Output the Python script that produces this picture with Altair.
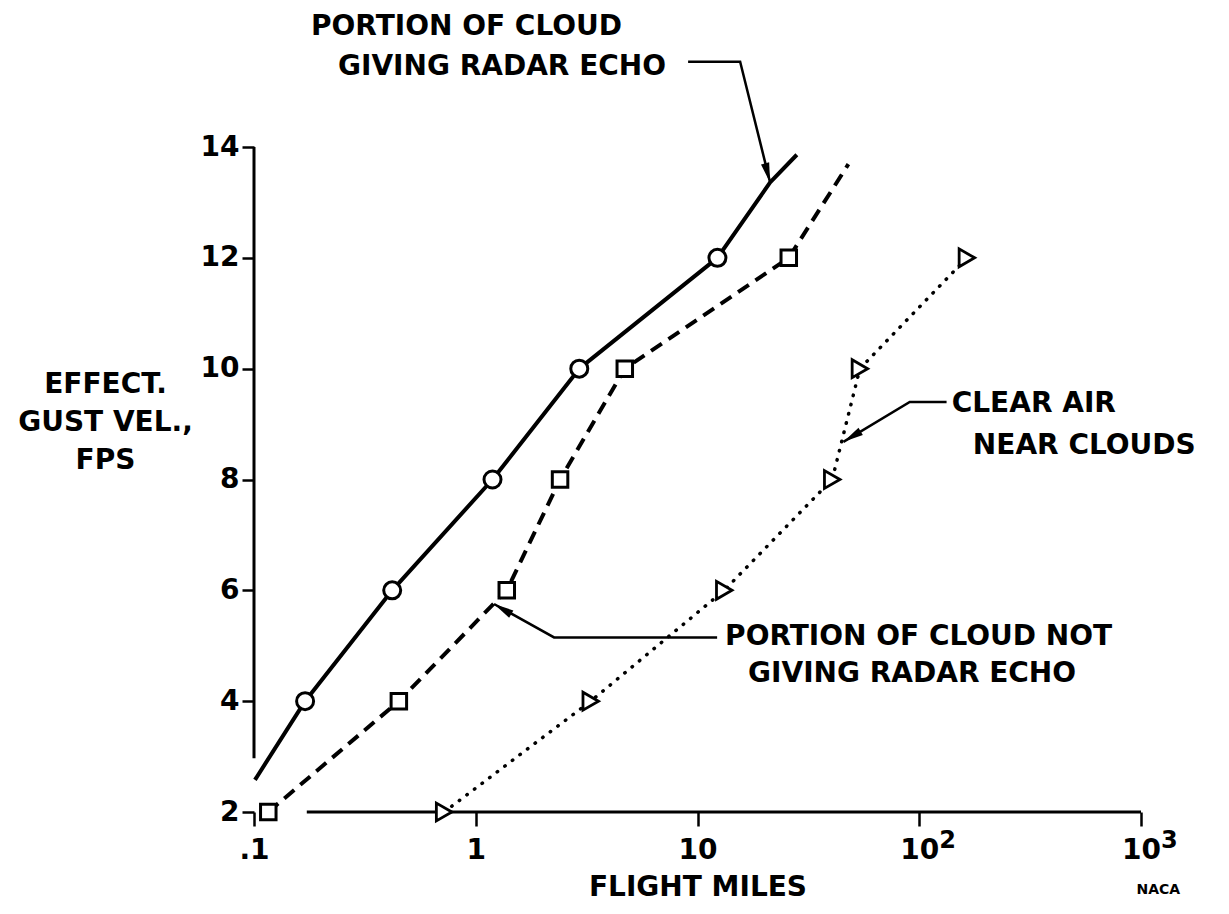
import altair as alt
import pandas as pd

# ---------------- data ----------------
# solid curve: portion of cloud giving radar echo (circles)
echo_line_x = [0.101, 0.17, 0.42, 1.19, 2.93, 12.3, 21.26, 28.05]
echo_line_y = [2.58, 4, 6, 8, 10, 12, 13.36, 13.86]
echo_pts_x = [0.17, 0.42, 1.19, 2.93, 12.3]
echo_pts_y = [4, 6, 8, 10, 12]

# dashed curve: portion of cloud not giving radar echo (squares)
noecho_line_x = [0.116, 0.45, 1.38, 2.40, 4.70, 25.8, 47.9]
noecho_line_y = [2, 4, 6, 8, 10, 12, 13.69]
noecho_pts_x = [0.116, 0.45, 1.38, 2.40, 4.70, 25.8]
noecho_pts_y = [2, 4, 6, 8, 10, 12]

# dotted curve: clear air near clouds (triangles)
clear_x = [0.72, 3.3, 13.2, 40.5, 54.0, 164.0]
clear_y = [2, 4, 6, 8, 10, 12]

# axes
y_ticks = [2, 4, 6, 8, 10, 12, 14]
x_ticks = [0.1, 1, 10, 100, 1000]
x_tick_labels = [".1", "1", "10", "10", "10"]
x_tick_exps = ["", "", "", "2", "3"]
y_title = ["EFFECT.", "GUST VEL.,", "FPS"]
x_title = "FLIGHT MILES"

# extent of drawn axis strokes
yaxis_x = [0.1, 0.1]
yaxis_y = [2.97, 14]
xaxis_x = [0.173, 1000]
xaxis_y = [2, 2]

# annotations
ann_text = ["PORTION OF CLOUD", "GIVING RADAR ECHO", "CLEAR AIR", "NEAR CLOUDS",
            "PORTION OF CLOUD NOT", "GIVING RADAR ECHO"]
ann_x = [0.1808, 0.2393, 140.1, 174.5, 13.32, 16.91]
ann_y = [16.17, 15.45, 9.354, 8.599, 5.153, 4.489]

leader_id = [1, 1, 1, 2, 2, 2, 3, 3, 3]
leader_x = [9.07, 15.57, 21.26, 132.8, 90.6, 45.5, 12.26, 2.255, 1.209]
leader_y = [15.54, 15.54, 13.36, 9.40, 9.40, 8.68, 5.15, 5.15, 5.753]

head_x = [20.71, 49.8, 1.322]
head_y = [13.53, 8.774, 5.662]
head_angle = [165.3, 238.9, 300.3]

logo_text = ["NACA"]
logo_x = [1196]
logo_y = [0.59]

# ---------------- chart ----------------
FONT = "DejaVu Sans"
FS = 28

label_expr = " : ".join(
    f"datum.value == {v} ? '{t}'" for v, t in zip(x_ticks, x_tick_labels)
) + " : ''"

xs = alt.Scale(type="log", domain=[0.1, 1000], nice=False)
ys = alt.Scale(domain=[2, 14], nice=False, zero=False)

x_axis = alt.Axis(
    values=x_ticks, labelExpr=label_expr, title=x_title, grid=False, domain=False,
    tickSize=14, tickWidth=2.5, tickColor="black",
    labelFont=FONT, labelFontSize=FS, labelFontWeight="bold", labelColor="black",
    labelPadding=10, labelFlush=False, labelOverlap=False, labelBound=False,
    titleFont=FONT, titleFontSize=FS, titleFontWeight="bold", titleColor="black",
    titleY=75, titleBaseline="middle",
)
y_axis = alt.Axis(
    values=y_ticks, title=y_title, grid=False, domain=False,
    tickSize=12, tickWidth=2.5, tickColor="black",
    labelFont=FONT, labelFontSize=FS, labelFontWeight="bold", labelColor="black",
    labelPadding=3, labelFlush=False, labelOverlap=False, labelBound=False,
    titleFont=FONT, titleFontSize=FS, titleFontWeight="bold", titleColor="black",
    titleAngle=0, titleX=-149, titleY=237, titleAlign="center",
    titleBaseline="middle", titleLineHeight=38,
)

X = alt.X("x:Q", scale=xs, axis=x_axis)
Y = alt.Y("y:Q", scale=ys, axis=y_axis)


def frame(xv, yv, **extra):
    d = {"x": xv, "y": yv, "i": list(range(len(xv)))}
    d.update(extra)
    return pd.DataFrame(d)


yaxis_line = alt.Chart(frame(yaxis_x, yaxis_y)).mark_line(
    color="black", strokeWidth=3).encode(x=X, y=Y, order="i:Q")
xaxis_line = alt.Chart(frame(xaxis_x, xaxis_y)).mark_line(
    color="black", strokeWidth=3).encode(x=X, y=Y, order="i:Q")

echo_line = alt.Chart(frame(echo_line_x, echo_line_y)).mark_line(
    color="black", strokeWidth=4, strokeJoin="round").encode(x=X, y=Y, order="i:Q")
noecho_line = alt.Chart(frame(noecho_line_x, noecho_line_y)).mark_line(
    color="black", strokeWidth=4, strokeDash=[13, 8]).encode(x=X, y=Y, order="i:Q")
clear_line = alt.Chart(frame(clear_x, clear_y)).mark_line(
    color="black", strokeWidth=3.5, strokeDash=[0.5, 9], strokeCap="round").encode(
    x=X, y=Y, order="i:Q")

echo_pts = alt.Chart(frame(echo_pts_x, echo_pts_y)).mark_point(
    shape="circle", filled=True, fill="white", stroke="black", strokeWidth=3,
    size=289, opacity=1).encode(x=X, y=Y)
noecho_pts = alt.Chart(frame(noecho_pts_x, noecho_pts_y)).mark_point(
    shape="square", filled=True, fill="white", stroke="black", strokeWidth=3,
    size=240, opacity=1).encode(x=X, y=Y)
clear_pts = alt.Chart(frame(clear_x, clear_y)).mark_point(
    shape="triangle-right", filled=True, fill="white", stroke="black", strokeWidth=2.8,
    size=320, opacity=1).encode(x=X, y=Y)

leaders = alt.Chart(frame(leader_x, leader_y, lid=leader_id)).mark_line(
    color="black", strokeWidth=2.5).encode(x=X, y=Y, detail="lid:N", order="i:Q")
heads = alt.Chart(frame(head_x, head_y, ang=head_angle)).mark_point(
    shape="M0,-1L-0.42,1L0.42,1Z", filled=True, color="black", size=400, opacity=1
).encode(x=X, y=Y, angle=alt.Angle("ang:Q", scale=None))

texts = alt.Chart(frame(ann_x, ann_y, t=ann_text)).mark_text(
    align="left", baseline="middle", font=FONT, fontSize=FS, fontWeight="bold",
    color="black").encode(x=X, y=Y, text="t:N")

sup_x = [v for v, e in zip(x_ticks, x_tick_exps) if e]
sup_t = [e for e in x_tick_exps if e]
sups = alt.Chart(frame(sup_x, [2] * len(sup_x), t=sup_t)).mark_text(
    align="left", baseline="middle", dx=20, dy=29, font=FONT, fontSize=24,
    fontWeight="bold", color="black").encode(x=X, y=Y, text="t:N")

logo = alt.Chart(frame(logo_x, logo_y, t=logo_text)).mark_text(
    align="center", baseline="middle", font=FONT, fontSize=14, fontWeight="bold",
    color="black").encode(x=X, y=Y, text="t:N")

chart = alt.layer(
    yaxis_line, xaxis_line, leaders, echo_line, noecho_line, clear_line,
    echo_pts, noecho_pts, clear_pts, heads, texts, sups, logo,
).properties(
    width=887, height=665,
    padding={"left": 246, "top": 139, "right": 80, "bottom": 95},
    autosize=alt.AutoSizeParams(type="none"),
    background="white",
).configure_view(stroke=None)

chart.save("out.html", embed_options={"renderer": "svg", "actions": False})
